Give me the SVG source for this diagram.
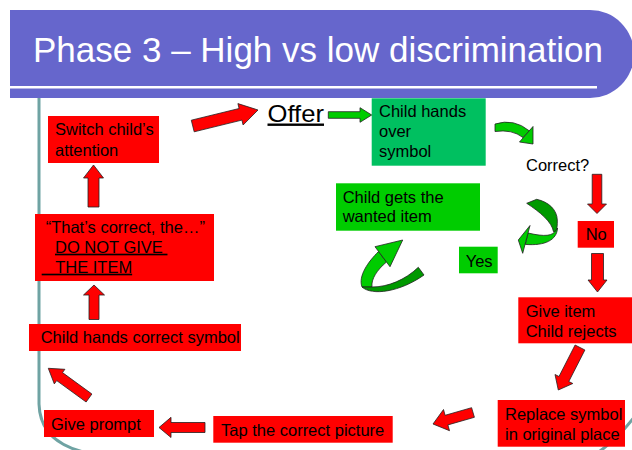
<svg xmlns="http://www.w3.org/2000/svg" width="632" height="450" viewBox="0 0 632 450">
<style>
.t{font-family:"Liberation Sans",Arial,sans-serif;font-size:16.5px;fill:#000}
.red{fill:#FF0000}
.grn{fill:#00CC00}
.grn2{fill:#00C060}
.ar{fill:#FF0000;stroke:#222;stroke-width:0.8;stroke-linejoin:miter}
.ag{fill:#00CC00;stroke:#222;stroke-width:0.8;stroke-linejoin:round}
.agd{fill:#009900;stroke:#222;stroke-width:0.8;stroke-linejoin:round}
.frame{fill:none;stroke:#6FA3A3;stroke-width:3}
</style>
<rect width="632" height="450" fill="#fff"/>
<g id="frame">
<path class="frame" d="M39,98 V404 Q40,443 88,453"/>
<path class="frame" d="M597,453 Q617,440 635,416"/>
</g>
<g id="title">
<path d="M10,10 H590 A44,44 0 0 1 634,54 A44,44 0 0 1 590,98 H10 Z" fill="#6666CC"/>
<rect x="10" y="86" width="587" height="2.5" fill="#fff"/>
<text x="33" y="62" font-family="'Liberation Sans',Arial,sans-serif" font-size="35" fill="#fff">Phase 3 – High vs low discrimination</text>
</g>
<g id="offer">
<text x="267.5" y="121.5" font-family="'Liberation Sans',Arial,sans-serif" font-size="24" fill="#000" text-decoration="underline" textLength="56.5" lengthAdjust="spacingAndGlyphs">Offer</text>
</g>
<g id="child-hands-over">
<rect class="grn2" x="371.7" y="98.3" width="114" height="67.4"/>
<text class="t" x="379" y="117.3">Child hands</text>
<text class="t" x="379" y="137.3">over</text>
<text class="t" x="379" y="156.7">symbol</text>
</g>
<g id="correct">
<text class="t" x="526" y="171">Correct?</text>
</g>
<g id="no">
<rect class="red" x="577.7" y="221" width="36.3" height="26.7"/>
<text class="t" x="585.7" y="240">No</text>
</g>
<g id="yes">
<rect class="grn" x="459" y="246.7" width="38.7" height="26.6"/>
<text class="t" x="465.7" y="266.7">Yes</text>
</g>
<g id="child-gets">
<rect class="grn" x="336" y="183.3" width="144" height="47.4"/>
<text class="t" x="342.7" y="202.7">Child gets the</text>
<text class="t" x="342.7" y="221.7">wanted item</text>
</g>
<g id="give-item">
<rect class="red" x="518.3" y="297.3" width="113.7" height="46"/>
<text class="t" x="525.7" y="316.7">Give item</text>
<text class="t" x="525.7" y="336.7">Child rejects</text>
</g>
<g id="replace">
<rect class="red" x="497.7" y="400" width="127.3" height="46.7"/>
<text class="t" x="505" y="420">Replace symbol</text>
<text class="t" x="505" y="440">in original place</text>
</g>
<g id="tap">
<rect class="red" x="213.3" y="416" width="179.4" height="26.7"/>
<text class="t" x="221" y="435.7">Tap the correct picture</text>
</g>
<g id="give-prompt">
<rect class="red" x="44" y="410" width="110" height="27"/>
<text class="t" x="51" y="430">Give prompt</text>
</g>
<g id="child-hands-correct">
<rect class="red" x="29" y="324" width="212" height="27"/>
<text class="t" x="40.7" y="343.3">Child hands correct symbol</text>
</g>
<g id="thats-correct">
<rect class="red" x="35" y="214" width="179" height="67"/>
<text class="t" x="45.7" y="232.7">“That’s correct, the…”</text>
<text class="t" x="55" y="252.7" xml:space="preserve" text-decoration="underline">DO NOT GIVE </text>
<text class="t" x="41.7" y="272.7" xml:space="preserve" text-decoration="underline">   THE ITEM</text>
</g>
<g id="switch">
<rect class="red" x="48" y="116" width="111" height="47"/>
<text class="t" x="55" y="135">Switch child’s</text>
<text class="t" x="55" y="156">attention</text>
</g>
<g id="connectors">
<polygon class="ar" points="194.2,131.8 241.9,120.1 243.1,125 258,110 237.9,103.6 239.1,108.5 191.3,120.2"/>
<polygon class="ag" points="328.3,111.7 360,111.7 360,107.7 371.7,115 360,122.3 360,118.3 328.3,118.3"/>
<path class="ag" d="M495,124 Q514,118 529.5,131 L523,137.5 Q512,129 495,131.5 Z"/>
<polygon class="ag" points="533,126.5 519.5,142 533,144"/>
<polygon class="ar" points="592.2,174.3 592.2,204 587.5,204 597,213.5 606.5,204 601.8,204 601.8,174.3"/>
<polygon class="ar" points="591.5,253.5 591.5,280 588,280 597.5,292 607,280 603.5,280 603.5,253.5"/>
<path class="agd" d="M526.7,203.3 L536.7,199.3 C549,202 557,210 557.3,220 C557.5,225 557,229 556,231.7 L553.5,231.7 C552,222 540,212 526.7,203.3 Z"/>
<path class="ag" d="M556,230 C553,236 545,237 528,233 L525.3,244.4 C545,246 557,240 557.5,228 Z"/>
<polygon class="ag" points="530,225.5 518.3,240 522.7,253.3"/>
<path class="ag" d="M378.5,251.5 C368,262 358,276 362,287 L372,287 C371,279 377,270 386.5,262 Z"/>
<path class="agd" d="M362,287 C372,296 400,292 424,275 L418.3,267.3 C405,280 388,287 372,287 Z"/>
<polygon class="ag" points="375,246.7 402.7,240 390,266.7"/>
<polygon class="ar" points="575.1,345 559,376.5 555,374.5 558.3,390 572.8,383.5 568.8,381.5 584.9,350"/>
<polygon class="ar" points="471.6,407.7 445.1,415.3 443.5,409.5 433,424 449.5,430.7 447.9,424.9 474.4,417.3"/>
<polygon class="ar" points="205,422.5 171,422.5 171,417.3 159,427.5 171,437.5 171,432.5 205,432.5"/>
<polygon class="ar" points="91.9,394 62.5,372.6 64.9,369.3 48.3,368.3 54.3,383.9 56.7,380.6 86.1,402"/>
<polygon class="ar" points="89,319.5 89,295 83.5,295 94,285 104.5,295 99,295 99,319.5"/>
<polygon class="ar" points="88,207 88,178 83.5,178 93.5,165 103.5,178 99,178 99,207"/>
</g>
</svg>
